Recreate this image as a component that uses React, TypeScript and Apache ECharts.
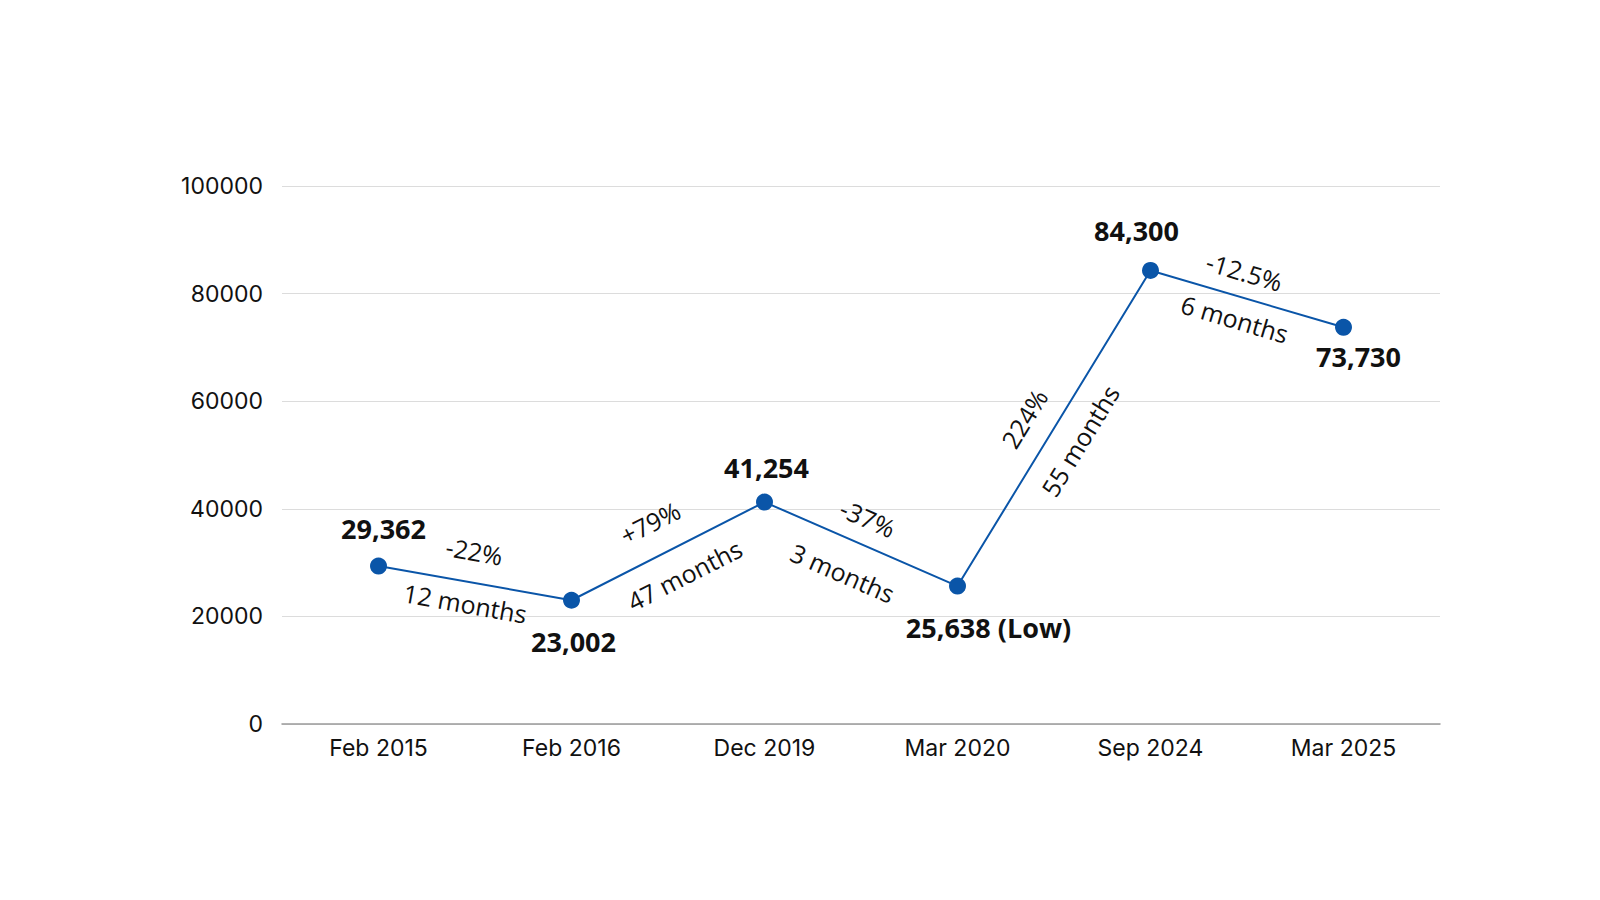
import React, { useEffect, useRef } from "react";
import * as echarts from "echarts";

const categories = ["Feb 2015", "Feb 2016", "Dec 2019", "Mar 2020", "Sep 2024", "Mar 2025"];
const values = [29362, 23002, 41254, 25638, 84300, 73730];
const valueLabels = ["29,362", "23,002", "41,254", "25,638 (Low)", "84,300", "73,730"];
const labelOffsets: [number, number][] = [[5, -38], [2, 41], [2, -35], [31, 41], [-14, -40], [15, 29]];
const changeLabels = ["-22%", "+79%", "-37%", "224%", "-12.5%"];
const durationLabels = ["12 months", "47 months", "3 months", "55 months", "6 months"];
// [along, normal] offsets for change (above) and duration (below)
const changeOffsets: [number, number][] = [[-6, 31], [-3, 33], [-4, 26], [-7, 30], [-10, 25]];
const durationOffsets: [number, number][] = [[-6, -21], [4, -28], [-5, -33], [3, -28], [-6, -22]];

const LINE = "#0a55a8";

export default function App() {
  const ref = useRef<HTMLDivElement>(null);
  useEffect(() => {
    document.body.style.margin = "0";
    const chart = echarts.init(ref.current!, null, { renderer: "svg" });
    chart.setOption({
      animation: false,
      backgroundColor: "#fff",
      grid: { left: 282, right: 160, top: 186, bottom: 176 },
      xAxis: {
        type: "category",
        data: categories,
        boundaryGap: true,
        axisLine: { lineStyle: { color: "#9a9a9a", width: 1.5 } },
        axisTick: { show: false },
        axisLabel: { color: "#111", fontFamily: "Inter", fontSize: 23, margin: 12 },
      },
      yAxis: {
        type: "value",
        min: 0,
        max: 100000,
        interval: 20000,
        axisLine: { show: false },
        axisTick: { show: false },
        splitLine: { lineStyle: { color: "#dcdcdc", width: 1 } },
        axisLabel: {
          color: "#111",
          fontFamily: "Inter",
          fontSize: 23,
          margin: 19,
          formatter: (v: number) => String(v),
        },
      },
      series: [
        {
          type: "line",
          data: values.map((v, i) => ({
            value: v,
            label: {
              show: true,
              position: "inside",
              offset: labelOffsets[i],
              formatter: valueLabels[i],
              fontFamily: "Open Sans",
              fontWeight: "bold",
              fontSize: 27,
              color: "#111",
            },
          })),
          symbol: "circle",
          symbolSize: 17,
          itemStyle: { color: LINE },
          lineStyle: { color: LINE, width: 2 },
        },
      ],
    });

    const pts = values.map((v, i) => chart.convertToPixel({ gridIndex: 0 }, [i, v]) as number[]);
    const elements: any[] = [];
    for (let i = 0; i < pts.length - 1; i++) {
      const [x0, y0] = pts[i];
      const [x1, y1] = pts[i + 1];
      const dx = x1 - x0;
      const dy = y1 - y0;
      const len = Math.hypot(dx, dy);
      const ux = dx / len;
      const uy = dy / len;
      const nx = uy;
      const ny = -ux;
      const mx = (x0 + x1) / 2;
      const my = (y0 + y1) / 2;
      const rot = Math.atan2(-dy, dx);
      const place = (text: string, off: [number, number]) => {
        const a = off[0] * 1.02;
        const n = off[1] * 1.02;
        elements.push({
          type: "text",
          x: mx + ux * a + nx * n,
          y: my + uy * a + ny * n,
          rotation: rot,
          style: {
            text,
            align: "center",
            verticalAlign: "middle",
            fontFamily: "Open Sans",
            fontSize: 25,
            fill: "#111",
          },
        });
      };
      place(changeLabels[i], changeOffsets[i]);
      place(durationLabels[i], durationOffsets[i]);
    }
    chart.setOption({ graphic: elements });
    return () => chart.dispose();
  }, []);
  return <div ref={ref} style={{ width: 1600, height: 900 }} />;
}
